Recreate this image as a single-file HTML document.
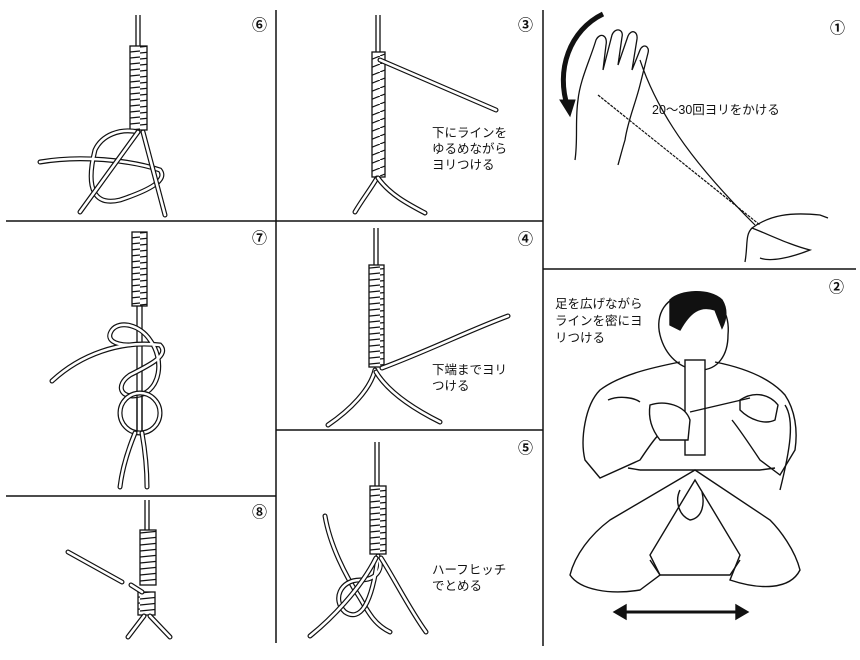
<!DOCTYPE html>
<html><head><meta charset="utf-8"><style>
html,body{margin:0;padding:0;background:#fff;}
svg{display:block}
text{font-family:"Liberation Sans","Noto Sans CJK JP",sans-serif;fill:#111}
.r1{fill:none;stroke:#111;stroke-width:5;stroke-linecap:round}
.r2{fill:none;stroke:#fff;stroke-width:2.6;stroke-linecap:round}
.ln{fill:none;stroke:#111;stroke-width:1.3}
.coil{fill:url(#st);stroke:#111;stroke-width:1.3}
.tw{fill:url(#tw);stroke:#111;stroke-width:1.3}
</style></head><body>
<svg width="860" height="660" viewBox="0 0 860 660" xmlns="http://www.w3.org/2000/svg">
<defs>
<pattern id="st" width="20" height="6" patternUnits="userSpaceOnUse"><rect width="20" height="6" fill="#fff"/><line x1="0" y1="5" x2="20" y2="3" stroke="#111" stroke-width="1.2"/></pattern>
<pattern id="tw" width="20" height="8" patternUnits="userSpaceOnUse"><rect width="20" height="8" fill="#fff"/><line x1="0" y1="8" x2="20" y2="0" stroke="#111" stroke-width="1.2"/></pattern>
</defs>
<g stroke="#111" stroke-width="1.5">
<line x1="276" y1="10" x2="276" y2="643"/>
<line x1="543" y1="10" x2="543" y2="646"/>
<line x1="6" y1="221" x2="543" y2="221"/>
<line x1="6" y1="496" x2="276" y2="496"/>
<line x1="276" y1="430" x2="543" y2="430"/>
<line x1="543" y1="269" x2="856" y2="269"/>
</g>
<g font-size="15" font-weight="bold">
<text x="252" y="30">⑥</text><text x="518" y="30">③</text><text x="830" y="33">①</text>
<text x="252" y="243">⑦</text><text x="518" y="244">④</text><text x="829" y="292">②</text>
<text x="252" y="517">⑧</text><text x="518" y="453">⑤</text>
</g>
<g font-size="12.5">
<text x="432" y="137">下にラインを</text><text x="432" y="153">ゆるめながら</text><text x="432" y="169">ヨリつける</text>
<text x="432" y="374">下端までヨリ</text><text x="432" y="390">つける</text>
<text x="432" y="574">ハーフヒッチ</text><text x="432" y="590">でとめる</text>
<text x="652" y="114">20～30回ヨリをかける</text>
<text x="555" y="308">足を広げながら</text><text x="555" y="325">ラインを密にヨ</text><text x="555" y="342">リつける</text>
</g>

<!-- Panel 6 -->
<g>
<line class="ln" x1="136" y1="15" x2="136" y2="48"/><line class="ln" x1="140" y1="15" x2="140" y2="48"/>
<rect class="coil" x="130" y="46" width="17" height="84"/>
<path class="r1" d="M40,162 C80,155 130,160 160,170 C168,180 150,190 120,200 C95,206 85,190 95,150 C102,135 120,128 138,132"/>
<path class="r2" d="M40,162 C80,155 130,160 160,170 C168,180 150,190 120,200 C95,206 85,190 95,150 C102,135 120,128 138,132"/>
<path class="r1" d="M138,132 L80,212"/><path class="r2" d="M138,132 L80,212"/>
<path class="r1" d="M143,132 L165,215"/><path class="r2" d="M143,132 L165,215"/>
</g>

<!-- Panel 3 -->
<g>
<line class="ln" x1="376" y1="15" x2="376" y2="52"/><line class="ln" x1="380" y1="15" x2="380" y2="52"/>
<rect class="tw" x="372" y="52" width="13" height="125"/>
<path class="r1" d="M380,60 L496,110"/><path class="r2" d="M380,60 L496,110"/>
<path class="r1" d="M377,178 C370,190 362,200 355,212"/><path class="r2" d="M377,178 C370,190 362,200 355,212"/>
<path class="r1" d="M378,178 C390,195 410,205 425,213"/><path class="r2" d="M378,178 C390,195 410,205 425,213"/>
</g>

<!-- Panel 4 -->
<g>
<line class="ln" x1="374" y1="228" x2="374" y2="266"/><line class="ln" x1="378" y1="228" x2="378" y2="266"/>
<rect class="coil" x="369" y="265" width="15" height="102"/>
<path class="r1" d="M382,368 C430,350 470,330 508,316"/><path class="r2" d="M382,368 C430,350 470,330 508,316"/>
<path class="r1" d="M375,370 C370,390 350,410 328,425"/><path class="r2" d="M375,370 C370,390 350,410 328,425"/>
<path class="r1" d="M376,372 C390,395 420,412 440,422"/><path class="r2" d="M376,372 C390,395 420,412 440,422"/>
</g>

<!-- Panel 5 -->
<g>
<line class="ln" x1="375" y1="442" x2="375" y2="488"/><line class="ln" x1="379" y1="442" x2="379" y2="488"/>
<rect class="coil" x="370" y="486" width="16" height="68"/>
<path class="r1" d="M325,516 C330,545 345,575 360,598 C368,612 375,625 390,632"/><path class="r2" d="M325,516 C330,545 345,575 360,598 C368,612 375,625 390,632"/>
<path class="r1" d="M378,556 C385,570 375,580 360,580 C340,580 332,600 345,612 C360,622 372,605 378,556"/><path class="r2" d="M378,556 C385,570 375,580 360,580 C340,580 332,600 345,612 C360,622 372,605 378,556"/>
<path class="r1" d="M376,558 C360,590 330,620 310,636"/><path class="r2" d="M376,558 C360,590 330,620 310,636"/>
<path class="r1" d="M381,558 C395,580 410,610 426,632"/><path class="r2" d="M381,558 C395,580 410,610 426,632"/>
</g>

<!-- Panel 7 -->
<g>
<rect class="coil" x="132" y="232" width="15" height="74"/>
<line class="ln" x1="137" y1="306" x2="137" y2="432"/><line class="ln" x1="142" y1="306" x2="142" y2="432"/>
<path class="r1" d="M52,381 C80,355 120,340 160,345 C170,355 150,365 130,375 C115,385 120,400 140,395 C160,390 165,360 150,340 C140,325 120,320 112,330 C105,340 115,345 130,345"/>
<path class="r2" d="M52,381 C80,355 120,340 160,345 C170,355 150,365 130,375 C115,385 120,400 140,395 C160,390 165,360 150,340 C140,325 120,320 112,330 C105,340 115,345 130,345"/>
<ellipse cx="140" cy="413" rx="20" ry="20" fill="none" stroke="#111" stroke-width="5"/>
<ellipse cx="140" cy="413" rx="20" ry="20" fill="none" stroke="#fff" stroke-width="2.6"/>
<line class="ln" x1="137" y1="395" x2="137" y2="432"/><line class="ln" x1="142" y1="395" x2="142" y2="432"/>
<path class="r1" d="M135,433 C128,450 122,470 120,487"/><path class="r2" d="M135,433 C128,450 122,470 120,487"/>
<path class="r1" d="M142,433 C145,450 147,470 147,487"/><path class="r2" d="M142,433 C145,450 147,470 147,487"/>
</g>

<!-- Panel 8 -->
<g>
<line class="ln" x1="145" y1="500" x2="145" y2="532"/><line class="ln" x1="149" y1="500" x2="149" y2="532"/>
<rect class="coil" x="140" y="530" width="16" height="55"/>
<rect class="coil" x="138" y="592" width="17" height="23"/>
<path class="r1" d="M68,552 L122,582"/><path class="r2" d="M68,552 L122,582"/>
<path class="r1" d="M131,585 L142,592"/><path class="r2" d="M131,585 L142,592"/>
<path class="r1" d="M144,616 L128,637"/><path class="r2" d="M144,616 L128,637"/>
<path class="r1" d="M150,616 L170,637"/><path class="r2" d="M150,616 L170,637"/>
</g>

<!-- Panel 1 -->
<g fill="none" stroke="#111">
<path d="M603,14 C570,30 555,70 568,108" stroke-width="5"/>
<polygon points="560,100 575,100 570,116" fill="#111"/>
<path stroke-width="1.3" d="M575,160 C578,140 575,120 578,100 C580,80 590,60 596,40 C600,32 608,35 606,45 L603,70 L612,35 C615,27 624,29 622,37 L618,65 L628,36 C631,29 638,31 637,39 L632,70 L640,50 C643,43 650,46 648,53 L640,85 C635,105 628,120 625,140 C622,150 620,158 618,165"/>
<path stroke-width="1.2" d="M598,95 L760,225" stroke-dasharray="3,1"/>
<path stroke-width="1.2" d="M640,60 C660,120 700,170 755,225"/>
<path stroke-width="1.3" d="M745,262 C748,245 745,235 752,228 C770,215 790,212 820,215 L828,218 M752,228 C770,235 790,245 810,250 C790,258 770,262 760,258"/>
</g>

<!-- Panel 2 person -->
<g fill="none" stroke="#111" stroke-width="1.4">
<path d="M690,295 C665,295 655,315 660,335 C665,355 680,370 700,370 C718,370 728,355 728,335 C730,315 720,295 700,293 Z" fill="#fff"/>
<path d="M670,300 C680,290 710,288 722,300 C728,310 726,320 722,328 L715,310 C700,305 690,312 680,330 L670,325 Z" fill="#111"/>
<path d="M680,362 C650,368 620,375 600,390 C585,405 580,440 585,460 L600,478 L640,460 C650,445 660,430 675,420"/>
<path d="M715,362 C745,368 770,378 785,395 C795,410 798,430 795,450 L780,475 L760,460 C750,445 740,430 732,420"/>
<rect x="685" y="360" width="20" height="95" fill="#fff"/>
<path d="M608,400 C620,395 635,398 640,402"/>
<path d="M650,405 C665,400 685,405 690,420 L688,440 L660,440 C652,430 648,418 650,405 Z" fill="#fff"/>
<path d="M740,400 C755,390 770,395 778,405 L775,420 C765,425 750,420 740,410 Z" fill="#fff"/>
<path d="M690,412 L750,398"/>
<path d="M785,405 C795,420 790,450 780,490"/>
<path d="M640,470 L760,470 M640,470 L628,468 M760,470 L775,468"/>
<path d="M695,470 L610,520 C590,535 575,555 570,575 C580,590 610,595 640,590 L660,575 L650,555 L695,480 L740,555 L730,580 C760,590 790,590 800,570 C795,550 780,530 770,520 Z"/>
<path d="M680,490 C675,500 678,515 690,520 C702,518 705,505 702,492"/>
<path d="M650,560 L660,575 L730,575 L740,560"/>
<line x1="620" y1="612" x2="740" y2="612" stroke-width="3"/>
<polygon points="614,612 626,605 626,619" fill="#111"/>
<polygon points="748,612 736,605 736,619" fill="#111"/>
</g>
</svg>
</body></html>
